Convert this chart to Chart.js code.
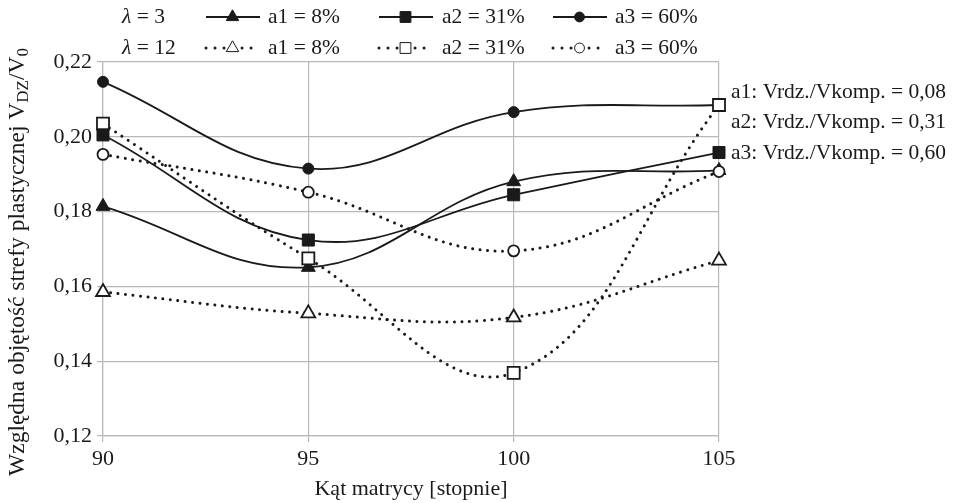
<!DOCTYPE html>
<html>
<head>
<meta charset="utf-8">
<script src="https://cdn.jsdelivr.net/npm/chart.js@4/dist/chart.umd.min.js"></script>
<style>
  html, body { margin: 0; padding: 0; background: #fff; }
  #wrap { width: 956px; height: 503px; }
</style>
</head>
<body>
<div id="wrap"><canvas id="chart" width="956" height="503"></canvas></div>
<script>
// values
const angles = [90, 95, 100, 105];
const a1Lambda3 = [0.1814, 0.1651, 0.1880, 0.1910];
const a2Lambda3 = [0.2005, 0.1724, 0.1845, 0.1958];
const a3Lambda3 = [0.2147, 0.1915, 0.2066, 0.2085];
const a1Lambda12 = [0.1585, 0.1528, 0.1517, 0.1669];
const a2Lambda12 = [0.2035, 0.1675, 0.1369, 0.2085];
const a3Lambda12 = [0.1953, 0.1852, 0.1695, 0.1907];

const lambdaLabels = ["3", "12"];
const seriesLabels = ["a1 = 8%", "a2 = 31%", "a3 = 60%"];
const ratioNotes = [
  "a1: Vrdz./Vkomp. = 0,08",
  "a2: Vrdz./Vkomp. = 0,31",
  "a3: Vrdz./Vkomp. = 0,60",
];
const xTitle = "Kąt matrycy [stopnie]";
const yTitleMain = "Względna objętość strefy plastycznej V";

const SERIF = "'Liberation Serif', 'DejaVu Serif', serif";
const INK = "#1a1a1a";
const GRID = "#b8b8b8";
const DOTS = [0.01, 7.5];

const toPoints = (values) => values.map((y, i) => ({ x: angles[i], y }));

const markerStyle = (shape, filled) => {
  const radius = shape === "rect" ? 8.5 : shape === "triangle" ? 8 : 5.5;
  return {
    pointStyle: shape,
    pointRadius: radius,
    pointHoverRadius: radius,
    pointBackgroundColor: filled ? INK : "#fff",
    pointBorderColor: INK,
    pointBorderWidth: filled ? 1 : 1.8,
  };
};

const makeDataset = (values, shape, dotted, order) => ({
  data: toPoints(values),
  borderColor: INK,
  borderWidth: dotted ? 3 : 1.8,
  borderDash: dotted ? DOTS : [],
  borderCapStyle: dotted ? "round" : "butt",
  tension: 0.4,
  fill: false,
  clip: false,
  order,
  ...markerStyle(shape, !dotted),
});

const datasets = [
  makeDataset(a1Lambda3, "triangle", false, 2),
  makeDataset(a2Lambda3, "rect", false, 0),
  makeDataset(a3Lambda3, "circle", false, 2),
  makeDataset(a1Lambda12, "triangle", true, 1),
  makeDataset(a2Lambda12, "rect", true, 1),
  makeDataset(a3Lambda12, "circle", true, 1),
];

const textPlugin = {
  id: "texts",
  afterDraw(chart) {
    const ctx = chart.ctx;
    const { drawPoint } = Chart.helpers;
    ctx.save();
    ctx.fillStyle = INK;
    ctx.textBaseline = "middle";

    // legend: two rows, one per lambda
    const rows = [17, 48];
    const sampleX = [205, 378, 552];
    const labelX = [268, 442, 615];
    const shapes = ["triangle", "rect", "circle"];
    const legendFont = "21.5px " + SERIF;
    rows.forEach((y, r) => {
      const dotted = r === 1;
      ctx.textAlign = "left";
      ctx.font = "italic 21.5px " + SERIF;
      ctx.fillText("λ", 122, y);
      const lw = ctx.measureText("λ").width;
      ctx.font = legendFont;
      ctx.fillText(" = " + lambdaLabels[r], 122 + lw, y);

      shapes.forEach((shape, i) => {
        const x0 = sampleX[i];
        ctx.save();
        ctx.strokeStyle = INK;
        ctx.lineWidth = dotted ? 3 : 1.8;
        ctx.lineCap = dotted ? "round" : "butt";
        ctx.setLineDash(dotted ? [0.01, 9] : []);
        ctx.beginPath();
        ctx.moveTo(x0 + 1, y);
        ctx.lineTo(x0 + 55, y);
        ctx.stroke();
        ctx.restore();

        const m = markerStyle(shape, !dotted);
        ctx.save();
        ctx.fillStyle = dotted ? "#fff" : INK;
        ctx.strokeStyle = INK;
        drawPoint(ctx, {
          pointStyle: shape,
          radius: m.pointRadius * 0.9,
          rotation: 0,
          borderWidth: m.pointBorderWidth,
        }, x0 + 27.5, y);
        ctx.restore();

        ctx.font = legendFont;
        ctx.fillText(seriesLabels[i], labelX[i], y);
      });
    });

    // ratio notes to the right of the plot
    ctx.textAlign = "left";
    ctx.font = legendFont;
    [92, 122, 153].forEach((y, i) => ctx.fillText(ratioNotes[i], 731, y));

    // x axis title
    ctx.textAlign = "center";
    ctx.font = "22px " + SERIF;
    ctx.fillText(xTitle, 411, 489);

    // y axis title with subscripts
    ctx.save();
    ctx.translate(18, 262);
    ctx.rotate(-Math.PI / 2);
    const big = "23.5px " + SERIF;
    const small = "17px " + SERIF;
    const parts = [
      [yTitleMain, big, 0],
      ["DZ", small, 6],
      ["/V", big, 0],
      ["0", small, 6],
    ];
    let total = 0;
    parts.forEach(([t, f]) => { ctx.font = f; total += ctx.measureText(t).width; });
    let x = -total / 2;
    ctx.textAlign = "left";
    parts.forEach(([t, f, dy]) => {
      ctx.font = f;
      ctx.fillText(t, x, dy);
      x += ctx.measureText(t).width;
    });
    ctx.restore();

    ctx.restore();
  },
};

new Chart(document.getElementById("chart"), {
  type: "line",
  data: { datasets },
  options: {
    responsive: false,
    animation: false,
    layout: { padding: { left: 0, top: 62, right: 237, bottom: 0 } },
    plugins: { legend: { display: false }, tooltip: { enabled: false } },
    scales: {
      x: {
        type: "linear",
        min: 90,
        max: 105,
        afterFit: (scale) => { scale.height = 67; },
        ticks: {
          stepSize: 5,
          padding: 4,
          color: INK,
          font: { family: SERIF, size: 22 },
        },
        grid: { color: GRID, lineWidth: 1.2, tickLength: 6 },
        border: { color: GRID, width: 1.2 },
      },
      y: {
        min: 0.12,
        max: 0.22,
        afterFit: (scale) => { scale.width = 103; },
        ticks: {
          stepSize: 0.02,
          padding: 5,
          color: INK,
          font: { family: SERIF, size: 22 },
          callback: (v) => v.toFixed(2).replace(".", ","),
        },
        grid: { color: GRID, lineWidth: 1.2, tickLength: 6 },
        border: { color: GRID, width: 1.2 },
      },
    },
  },
  plugins: [textPlugin],
});
</script>
</body>
</html>
